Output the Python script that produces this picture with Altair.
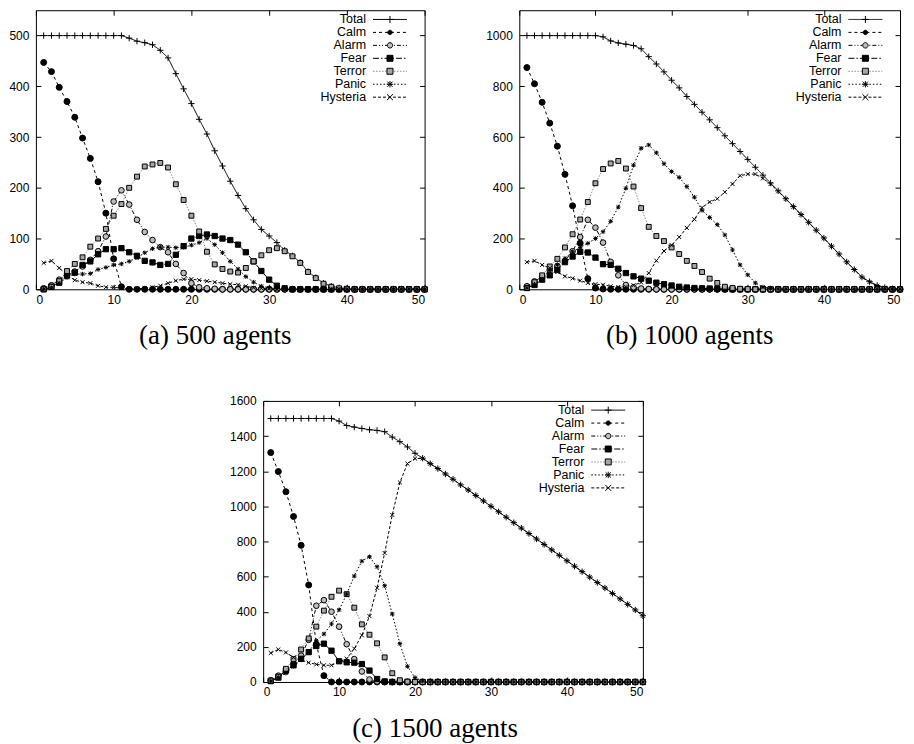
import altair as alt
import pandas as pd

x_steps = list(range(1, 51))
series_names = ["Total", "Calm", "Alarm", "Fear", "Terror", "Panic", "Hysteria"]

# ---------------- (a) 500 agents ----------------
total_500 = [500] * 11 + [495, 489, 486, 482, 471, 456, 425, 395, 366, 335, 306, 273, 243, 213, 185, 159,
                          137, 118, 105, 92, 77, 66, 53, 35, 23, 12, 6, 3, 1] + [0] * 10
calm_500 = [447, 429, 398, 370, 339, 298, 258, 212, 150, 60, 5] + [0] * 39
alarm_500 = [2, 8, 19, 27, 35, 45, 58, 75, 104, 173, 195, 167, 137, 113, 97, 83, 73, 50, 32, 12, 4, 2, 1] + [0] * 27
fear_500 = [0, 5, 13, 27, 33, 48, 55, 69, 79, 79, 81, 73, 66, 56, 53, 48, 50, 68, 85, 100, 105, 108, 105, 100,
            97, 88, 73, 55, 36, 19, 7, 2] + [0] * 18
terror_500 = [0, 5, 16, 36, 50, 63, 84, 100, 119, 145, 168, 200, 222, 242, 246, 249, 240, 207, 176, 145, 114, 74,
              49, 40, 35, 33, 42, 55, 67, 77, 81, 75, 65, 52, 34, 22, 11, 5, 2, 1] + [0] * 10
panic_500 = [0, 3, 12, 23, 30, 30, 31, 39, 43, 48, 50, 55, 62, 72, 80, 83, 83, 82, 83, 87, 92, 100, 88, 72, 55,
             40, 25, 14, 6, 3, 1] + [0] * 19
hysteria_500 = [52, 56, 42, 28, 18, 14, 12, 7, 4, 4, 2, 1, 1, 2, 4, 7, 12, 17, 20, 20, 18, 16, 14, 12, 10, 9, 6,
                3, 2, 1] + [0] * 20

# ---------------- (b) 1000 agents ----------------
total_1000 = [1000] * 10 + [995, 979, 971, 966, 961, 948, 917, 888, 857, 824, 794, 760, 729, 698, 668, 637, 605,
                            574, 543, 512, 481, 450, 419, 388, 357, 326, 295, 264, 233, 202, 170, 139, 108, 78,
                            48, 30, 15, 7, 2, 1]
calm_1000 = [874, 810, 737, 655, 564, 453, 329, 182, 42, 5, 1] + [0] * 39
alarm_1000 = [12, 31, 50, 75, 92, 112, 150, 206, 274, 243, 184, 108, 55, 17, 8, 3, 1] + [0] * 33
fear_1000 = [5, 17, 38, 55, 76, 107, 129, 148, 145, 125, 99, 96, 81, 64, 51, 42, 34, 26, 20, 15, 10, 7, 5, 4, 3,
             2, 1] + [0] * 23
terror_1000 = [5, 28, 55, 90, 120, 165, 217, 275, 344, 418, 474, 496, 506, 476, 405, 320, 246, 210, 190, 165, 139,
               112, 92, 68, 42, 25, 10, 5, 2, 1] + [0] * 20
panic_1000 = [5, 20, 40, 74, 97, 122, 148, 165, 181, 200, 227, 268, 324, 398, 489, 556, 569, 538, 495, 464, 441,
              405, 363, 311, 283, 255, 214, 155, 96, 57, 25, 9, 3, 1] + [0] * 16
hysteria_1000 = [107, 112, 96, 84, 68, 51, 43, 34, 25, 20, 18, 12, 9, 10, 16, 27, 64, 113, 151, 174, 206, 242,
                 276, 322, 344, 357, 383, 415, 448, 454, 454, 437, 415, 386, 356, 325, 294, 263, 232, 201, 169,
                 138, 107, 77, 47, 29, 14, 6, 2, 1]

# ---------------- (c) 1500 agents ----------------
total_1500 = [1500] * 9 + [1485, 1460, 1451, 1443, 1436, 1432, 1425, 1394, 1368, 1338, 1302, 1274, 1243, 1215,
                           1184, 1154, 1122, 1093, 1062, 1031, 1000, 969, 938, 907, 876, 845, 814, 783, 752, 721,
                           690, 659, 628, 597, 566, 535, 504, 473, 442, 410, 377]
calm_1500 = [1306, 1198, 1083, 942, 778, 552, 215, 36] + [0] * 42
alarm_1500 = [10, 36, 62, 103, 150, 240, 434, 466, 400, 315, 215, 130, 60, 14, 3] + [0] * 35
fear_1500 = [5, 25, 65, 95, 132, 170, 205, 218, 178, 118, 112, 110, 102, 65, 17, 3] + [0] * 34
terror_1500 = [8, 30, 75, 130, 185, 248, 315, 406, 485, 520, 500, 423, 328, 269, 220, 140, 50, 10, 2] + [0] * 31
panic_1500 = [6, 26, 50, 90, 125, 170, 235, 273, 330, 411, 500, 603, 688, 713, 656, 548, 387, 218, 89, 25, 5,
              1] + [0] * 28
hysteria_1500 = [165, 185, 168, 140, 125, 110, 100, 95, 95, 115, 133, 190, 266, 375, 536, 734, 951, 1136, 1243,
                 1272, 1273, 1243, 1215, 1184, 1154, 1122, 1093, 1062, 1031, 1000, 969, 938, 907, 876, 845, 814,
                 783, 752, 721, 690, 659, 628, 597, 566, 535, 504, 473, 442, 410, 377]

x_ticks = [0, 10, 20, 30, 40, 50]
y_ticks_500 = [0, 100, 200, 300, 400, 500]
y_ticks_1000 = [0, 200, 400, 600, 800, 1000]
y_ticks_1500 = [0, 200, 400, 600, 800, 1000, 1200, 1400, 1600]

# ---------------- styles (same order as series_names) ----------------
line_colors = ["black", "black", "black", "black", "#8a8a8a", "black", "black"]
dashes = [[1, 0], [3, 3], [4, 2, 1, 2, 1, 2], [6, 2, 1.5, 2], [1.5, 1.5], [1.5, 2], [3, 2]]
shapes = [
    "M-1,0L1,0M0,-1L0,1",
    "circle",
    "circle",
    "square",
    "square",
    "M-0.8,-0.8L0.8,0.8M-0.8,0.8L0.8,-0.8M0,-1L0,1M-1,0L1,0",
    "M-1,-1L1,1M-1,1L1,-1",
]
fills = ["transparent", "black", "#bdbdbd", "black", "#a6a6a6", "black", "transparent"]
sizes = [40, 16, 24, 34, 34, 34, 30]

# legend key glyphs (unit = 5 px at size 100): a sample line, and the marker drawn on top of it
KEY_SIZE = 100
key_line = "M-3.4,0H3.4"
key_marks = [
    "M-0.7,0H0.7M0,-0.7V0.7",
    "M0.44,0A0.44,0.44,0,1,1,-0.44,0A0.44,0.44,0,1,1,0.44,0Z",
    "M0.54,0A0.54,0.54,0,1,1,-0.54,0A0.54,0.54,0,1,1,0.54,0Z",
    "M-0.6,-0.6H0.6V0.6H-0.6Z",
    "M-0.6,-0.6H0.6V0.6H-0.6Z",
    "M-0.52,-0.52L0.52,0.52M-0.52,0.52L0.52,-0.52M0,-0.64V0.64M-0.64,0H0.64",
    "M-0.6,-0.6L0.6,0.6M-0.6,0.6L0.6,-0.6",
]

FONT = "Liberation Sans"


def long_frame(cols):
    rows = []
    for name, vals in zip(series_names, cols):
        for xv, v in zip(x_steps, vals):
            rows.append({"step": xv, "series": name, "agents": v})
    return pd.DataFrame(rows)


def panel(df, ymax, yticks, caption, w, h, cap_dx):
    xs = alt.Scale(domain=[0, 50], nice=False, zero=False)
    ys = alt.Scale(domain=[0, ymax], nice=False)
    base = alt.Chart(df)

    lines = base.mark_line(strokeWidth=1).encode(
        x=alt.X("step:Q", scale=xs, axis=alt.Axis(values=x_ticks, title=None, ticks=False, domain=False,
                                                  grid=False, labelPadding=5, orient="bottom", format="d")),
        y=alt.Y("agents:Q", scale=ys, axis=alt.Axis(values=yticks, title=None, ticks=False, domain=False,
                                                    grid=False, labelPadding=7, orient="left", format="d")),
        color=alt.Color("series:N", scale=alt.Scale(domain=series_names, range=line_colors), legend=None),
        strokeDash=alt.StrokeDash("series:N", scale=alt.Scale(domain=series_names, range=dashes), legend=None),
    )
    pts = base.mark_point(filled=False, strokeWidth=1, opacity=1).encode(
        x=alt.X("step:Q", scale=xs, axis=alt.Axis(values=x_ticks, title=None, labels=False, domain=False,
                                                  grid=False, ticks=True, tickSize=5, offset=-5,
                                                  orient="bottom")),
        y=alt.Y("agents:Q", scale=ys, axis=alt.Axis(values=yticks, title=None, labels=False, domain=False,
                                                    grid=False, ticks=True, tickSize=5, offset=-5,
                                                    orient="left")),
        shape=alt.Shape("series:N", scale=alt.Scale(domain=series_names, range=shapes), legend=None),
        fill=alt.Fill("series:N", scale=alt.Scale(domain=series_names, range=fills), legend=None),
        stroke=alt.Stroke("series:N", scale=alt.Scale(domain=series_names, range=["black"] * 7), legend=None),
        size=alt.Size("series:N", scale=alt.Scale(domain=series_names, range=sizes), legend=None),
    )
    mirror = base.mark_point(opacity=0).encode(
        x=alt.X("step:Q", scale=xs, axis=alt.Axis(values=x_ticks, title=None, labels=False, domain=False,
                                                  grid=False, ticks=True, tickSize=5, offset=-5,
                                                  orient="top")),
        y=alt.Y("agents:Q", scale=ys, axis=alt.Axis(values=yticks, title=None, labels=False, domain=False,
                                                    grid=False, ticks=True, tickSize=5, offset=-5,
                                                    orient="right")),
    )

    leg_common = dict(title=None, orient="none", legendX=w - 41, legendY=3, labelFont=FONT,
                      labelFontSize=12.5, labelColor="black", labelAlign="right",
                      labelOffset={"expr": "-30.25"}, symbolOffset=0, rowPadding=0, padding=0,
                      symbolSize=KEY_SIZE, symbolStrokeWidth=1, symbolOpacity=1)
    leg_line = alt.Legend(symbolType=key_line, **leg_common)
    leg_mark = alt.Legend(labelOpacity=0, **leg_common)

    key_lines = base.transform_filter("false").mark_point(filled=False, size=KEY_SIZE).encode(
        stroke=alt.Stroke("series:N", scale=alt.Scale(domain=series_names, range=line_colors), legend=leg_line),
        strokeDash=alt.StrokeDash("series:N", scale=alt.Scale(domain=series_names, range=dashes), legend=leg_line),
    )
    key_marks_layer = base.transform_filter("false").mark_point(filled=False, size=KEY_SIZE).encode(
        shape=alt.Shape("series:N", scale=alt.Scale(domain=series_names, range=key_marks), legend=leg_mark),
        fill=alt.Fill("series:N", scale=alt.Scale(domain=series_names, range=fills), legend=leg_mark),
        stroke=alt.Stroke("series:N", scale=alt.Scale(domain=series_names, range=["black"] * 7), legend=leg_mark),
    )

    return alt.layer(lines, pts, mirror, key_lines, key_marks_layer).resolve_axis(
        x="independent", y="independent"
    ).resolve_scale(
        color="independent", shape="independent", fill="independent", stroke="independent",
        size="independent", strokeDash="independent"
    ).properties(
        width=w, height=h,
        title=alt.TitleParams(caption, orient="bottom", font="Liberation Serif", fontSize=27,
                              fontWeight="normal", color="black", offset=18, anchor="middle", dx=cap_dx),
    )


df_a = long_frame([total_500, calm_500, alarm_500, fear_500, terror_500, panic_500, hysteria_500])
df_b = long_frame([total_1000, calm_1000, alarm_1000, fear_1000, terror_1000, panic_1000, hysteria_1000])
df_c = long_frame([total_1500, calm_1500, alarm_1500, fear_1500, terror_1500, panic_1500, hysteria_1500])

pa = panel(df_a, 550, y_ticks_500, "(a) 500 agents", 390, 280, -15)
pb = panel(df_b, 1100, y_ticks_1000, "(b) 1000 agents", 382, 280, -20)
pc = panel(df_c, 1600, y_ticks_1500, "(c) 1500 agents", 381, 282, -18)

spacer = alt.Chart(pd.DataFrame({"step": [0]})).mark_point(opacity=0).encode(
    x=alt.X("step:Q", axis=None)
).properties(width=173, height=10, view=alt.ViewBackground(strokeOpacity=0))

indep = dict(color="independent", shape="independent", fill="independent", stroke="independent",
             size="independent", strokeDash="independent")

row1 = alt.hconcat(pa, pb, spacing=54).resolve_scale(**indep)
row2 = alt.hconcat(spacer, pc, spacing=20).resolve_scale(**indep)

chart = alt.vconcat(row1, row2, spacing=44).resolve_scale(**indep).properties(
    padding=0, background="white"
).configure_view(stroke="black", strokeWidth=1).configure_axis(
    labelFont=FONT, labelFontSize=12, labelColor="black", tickColor="black", tickWidth=1
)

chart.save("out.html", embed_options={"renderer": "svg", "actions": False})
